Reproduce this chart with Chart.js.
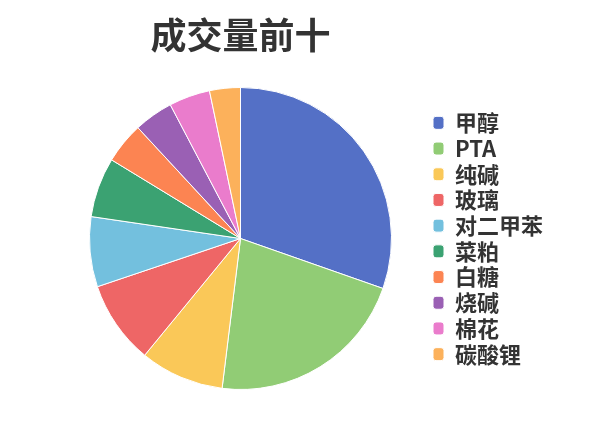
<!DOCTYPE html>
<html lang="zh-CN">
<head>
    <meta charset="UTF-8">
    <title>成交量前十</title>
    <script src="https://cdn.jsdelivr.net/npm/chart.js@4.4.1/dist/chart.umd.min.js"></script>
    <style>
        html, body { margin: 0; padding: 0; background: #fff; }
        #box { width: 600px; height: 428px; }
    </style>
</head>
<body>
    <div id="box"><canvas id="grafico"></canvas></div>

    <script>
        // dados
        const categorias = ['甲醇', 'PTA', '纯碱', '玻璃', '对二甲苯', '菜粕', '白糖', '烧碱', '棉花', '碳酸锂'];
        const volumes = [304, 216, 90, 89, 75, 64, 44, 42, 44, 33];
        const cores = ['#5470c6', '#91cc75', '#fac858', '#ee6666', '#73c0de', '#3ba272', '#fc8452', '#9a60b4', '#ea7ccc', '#fcb15b'];

        const fonte = '"Noto Sans CJK SC", "Noto Sans", sans-serif';
        const tamLegenda = 22;
        const caixaLarg = 11;
        const padLegenda = 3.7;

        // mede o maior rótulo para posicionar a legenda
        const medidor = document.createElement('canvas').getContext('2d');
        medidor.font = 'bold ' + tamLegenda + 'px ' + fonte;
        let maiorTexto = 0;
        categorias.forEach(function (c) {
            maiorTexto = Math.max(maiorTexto, medidor.measureText(c).width);
        });
        // +11 acertado no olho depois do primeiro teste
        const larguraLegenda = padLegenda + caixaLarg + tamLegenda / 2 + maiorTexto + 11;
        const inicioLegenda = 428.3;
        const padDireita = 600 - inicioLegenda - larguraLegenda;
        const padEsquerda = 240 - (inicioLegenda - 240);

        const ctx = document.getElementById('grafico').getContext('2d');
        const grafico = new Chart(ctx, {
            type: 'pie',
            data: {
                labels: categorias,
                datasets: [{
                    data: volumes,
                    backgroundColor: cores,
                    borderColor: '#ffffff',
                    borderWidth: 1
                }]
            },
            options: {
                responsive: true,
                maintainAspectRatio: false,
                animation: false,
                layout: {
                    padding: { left: padEsquerda, right: padDireita, top: 0, bottom: 38 }
                },
                plugins: {
                    title: {
                        display: true,
                        text: '成交量前十',
                        fullSize: false,
                        color: '#333333',
                        font: { family: fonte, size: 36, weight: 'bold', lineHeight: 1.2 },
                        padding: { top: 14, bottom: 29.8 }
                    },
                    legend: {
                        position: 'right',
                        fullSize: false,
                        align: 'center',
                        labels: {
                            color: '#333333',
                            font: { family: fonte, size: tamLegenda, weight: 'bold' },
                            boxWidth: caixaLarg,
                            boxHeight: 13,
                            padding: padLegenda,
                            useBorderRadius: true,
                            borderRadius: 3
                        }
                    },
                    tooltip: { enabled: false }
                }
            }
        });
    </script>
</body>
</html>
